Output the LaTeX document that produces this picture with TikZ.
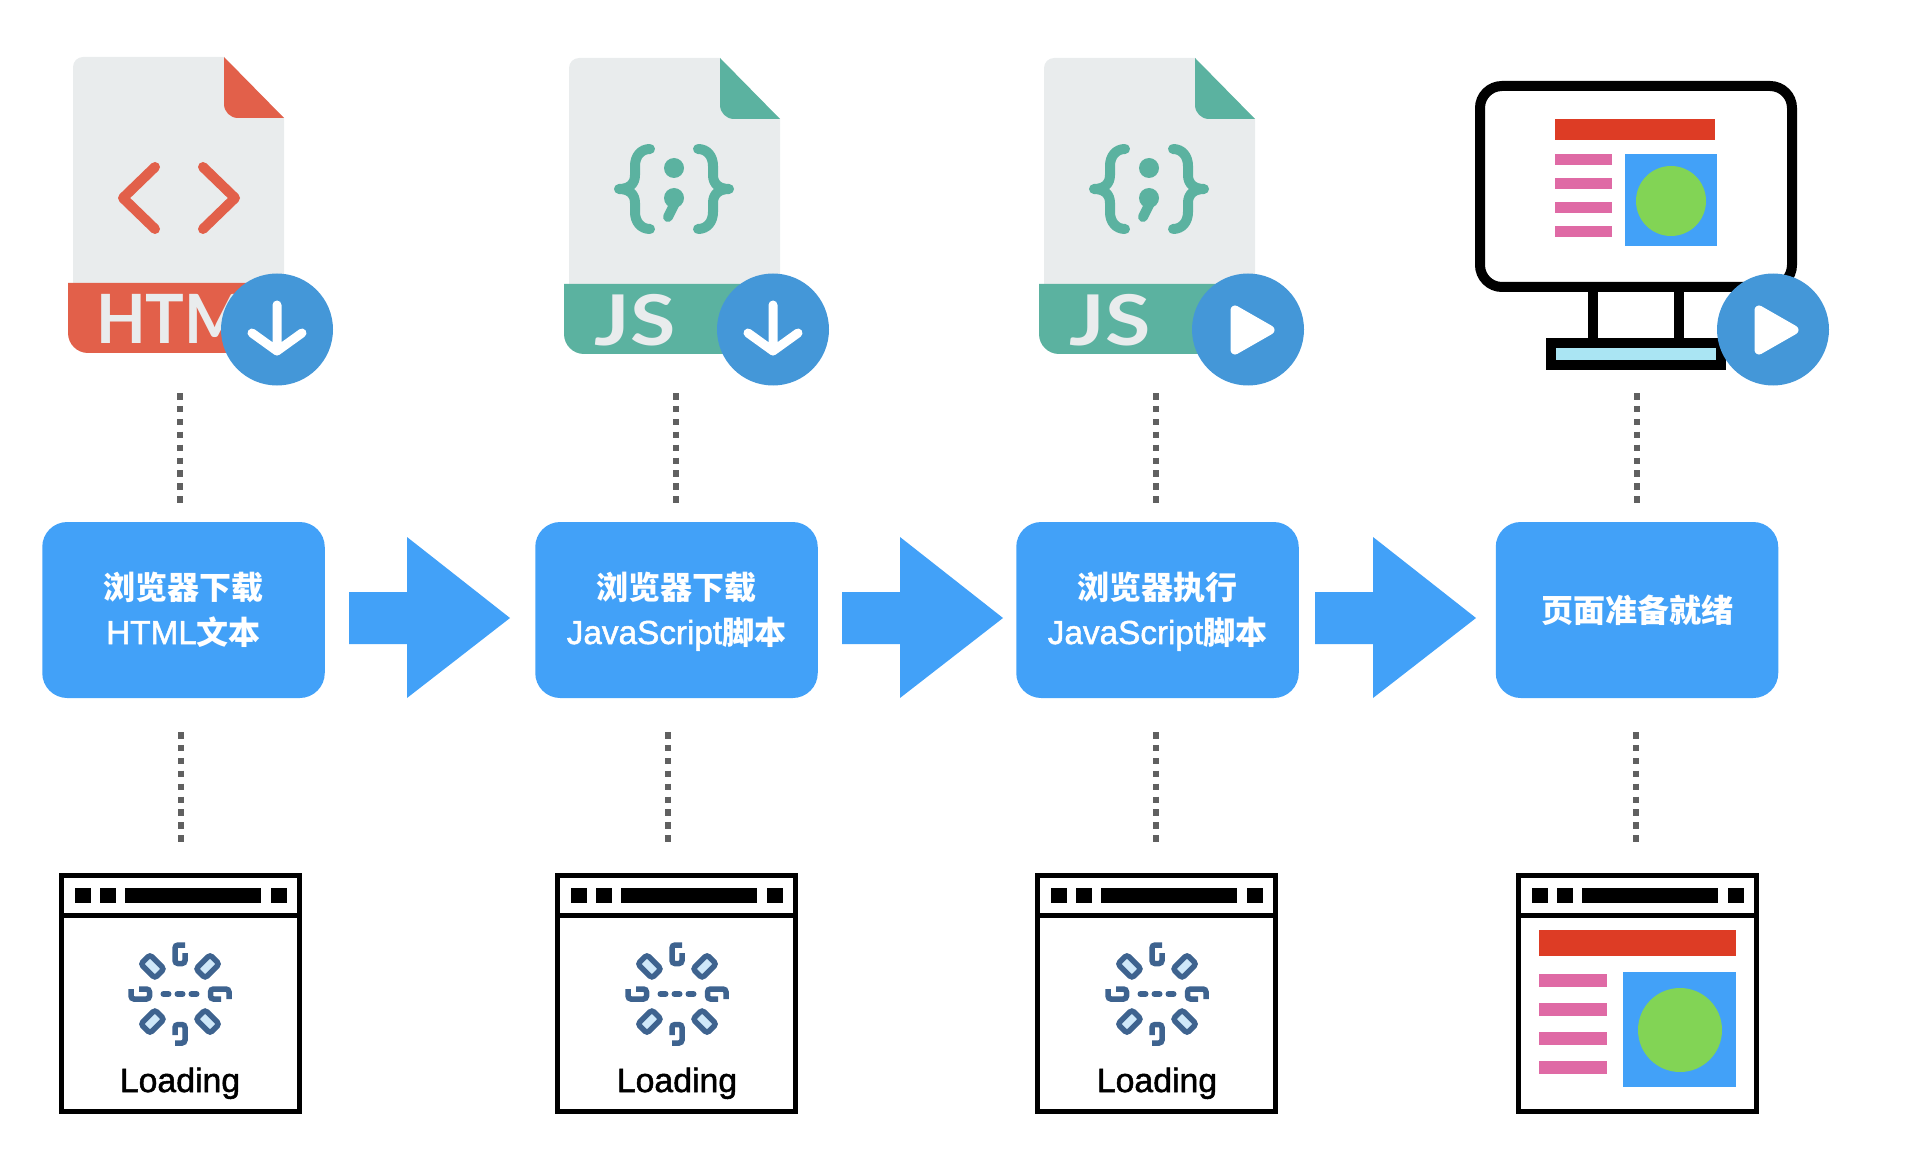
\documentclass[tikz,border=0pt]{standalone}
\usepackage{fontspec}
\setmainfont{Liberation Sans}
\newfontfamily\cjk{Noto Sans CJK SC}
\newfontfamily\midfont[FakeBold=1.5,Scale=1.04]{Liberation Sans}
\newfontfamily\iconfont{Lato}
\newcommand{\zh}[1]{{\cjk\bfseries #1}}
\newcommand{\topline}{\rule{0pt}{36.5pt}}
\definecolor{htmlred}{HTML}{E2604A}
\definecolor{jsgreen}{HTML}{5BB2A0}
\definecolor{filegrey}{HTML}{E9ECED}
\definecolor{badgeblue}{HTML}{4497D8}
\definecolor{boxblue}{HTML}{42A1F8}
\definecolor{barred}{HTML}{DD3C25}
\definecolor{linepink}{HTML}{DF6AA5}
\definecolor{ballgreen}{HTML}{82D455}
\definecolor{standblue}{HTML}{AAE5F3}
\definecolor{spindark}{HTML}{3E638F}
\definecolor{spinlight}{HTML}{CFE8F9}
\definecolor{dotgrey}{HTML}{606060}

\begin{document}
\begin{tikzpicture}[x=1pt,y=-1pt]
    \tikzset{%
      stepbox/.style={rectangle, fill=boxblue, text=white, rounded corners=25pt,
        minimum width=282.5pt, minimum height=176pt, inner sep=0pt, align=center,
        font=\fontsize{32}{45}\selectfont\midfont},
      badge/.style={circle, fill=badgeblue, inner sep=0pt, minimum size=112pt},
      dotline/.style={dotgrey, line width=6pt, dash pattern=on 6.5pt off 6.4pt},
      glyph/.style={white, line width=9pt, line cap=round, line join=round},
      spin/.style={spindark, line width=5.5pt, rounded corners=3pt},
    }
    \useasboundingbox (0,0) rectangle (1928,1158);

    % files
    \foreach \fx/\fy/\fc in {73/57/htmlred,569/58/jsgreen,1044/58/jsgreen}{
      \begin{scope}[shift={(\fx,\fy)}]
        \fill[filegrey] (0,226) [rounded corners=10pt] -- (0,0) [sharp corners]
          -- (151,0) -- (211,61) -- (211,226) -- cycle;
        \fill[\fc] (151,0) -- (211,61) [rounded corners=14pt] -- (151,61)
          [sharp corners] -- cycle;
        \fill[\fc] (-5,226) [rounded corners=20pt] -- (-5,296) [sharp corners]
          -- (211,296) -- (211,226) -- cycle;
      \end{scope}
    }
    \draw[htmlred, line width=10pt, line cap=round, line join=round]
      (155,167) -- (123,198) -- (155,229) (203,167) -- (235,198) -- (203,229);
    \node[filegrey, anchor=base west, inner sep=0pt, xscale=0.95,
      font=\fontsize{68}{68}\selectfont\iconfont\bfseries] (H) at (96,344) {HTML};

    % js marks
    \foreach \k/\fx in {1/569,2/1044}{
      \begin{scope}[shift={(\fx+105,189)}]
        \foreach \s in {1,-1}{
          \draw[jsgreen, xscale=\s, line width=10pt, line cap=round, line join=round]
            (-24,-40) .. controls (-33,-40) and (-39,-33) .. (-39,-23)
            -- (-39,-14) .. controls (-39,-5) and (-45,0) .. (-55,0)
            .. controls (-45,0) and (-39,5) .. (-39,14)
            -- (-39,23) .. controls (-39,33) and (-33,40) .. (-24,40);
        }
        \fill[jsgreen] (0,-21) circle[radius=10];
        \fill[jsgreen] (0,9) circle[radius=10];
        \draw[jsgreen, line width=10pt, line cap=round] (2,12) -- (-6,28);
      \end{scope}
      \node[filegrey, anchor=base, inner sep=0pt, xscale=1.18,
        font=\fontsize{70}{70}\selectfont\iconfont\bfseries] (J\k) at (\fx+66,345) {JS};
    }

    % monitor
    \draw[black, line width=10pt, rounded corners=22pt] (1480,86) rectangle (1792,287);
    \fill[black] (1588,292) rectangle (1598,338);
    \fill[black] (1674,292) rectangle (1684,338);
    \draw[black, line width=10pt, fill=standblue] (1551,343) rectangle (1721,365);
    \fill[barred] (1555,119) rectangle (1715,140);
    \foreach \ly in {154,178,202,226}{
      \fill[linepink] (1555,\ly) rectangle (1612,\ly+11);
    }
    \fill[boxblue] (1625,154) rectangle (1717,246);
    \fill[ballgreen] (1671,201) circle[radius=35];

    % badges
    \node[badge] (C1) at (277,329.5) {};
    \draw[glyph] (277,305) -- (277,351) (252,333) -- (277,351) -- (302,333);
    \node[badge] (C2) at (773,329.5) {};
    \draw[glyph] (773,305) -- (773,351) (748,333) -- (773,351) -- (798,333);
    \node[badge] (C3) at (1248,329.5) {};
    \filldraw[glyph] (1235,310) -- (1235,350) -- (1270,330) -- cycle;
    \node[badge] (C4) at (1773,329.5) {};
    \filldraw[glyph] (1759,310) -- (1759,350) -- (1794,330) -- cycle;

    % steps
    \node[stepbox] (B1) at (183.5,610) {\topline\zh{浏览器下载}\\HTML\zh{文本}\strut};
    \node[stepbox] (B2) at (676.5,610) {\topline\zh{浏览器下载}\\JavaScript\zh{脚本}\strut};
    \node[stepbox] (B3) at (1157.5,610) {\topline\zh{浏览器执行}\\JavaScript\zh{脚本}\strut};
    \node[stepbox] (B4) at (1637,610) {\zh{页面准备就绪}};

    \foreach \ax in {349,842,1315}{
      \fill[boxblue] (\ax,592) -- (\ax+58,592) -- (\ax+58,537) -- (\ax+161,618)
        -- (\ax+58,698) -- (\ax+58,644) -- (\ax,644) -- cycle;
    }

    % dotted links
    \foreach \k/\xa/\xb in {1/180/181,2/676/668,3/1156/1156,4/1637/1636}{
      \coordinate (Ua\k) at (\xa,393);
      \coordinate (Ub\k) at (\xa,503);
      \coordinate (La\k) at (\xb,732);
      \coordinate (Lb\k) at (\xb,842);
      \draw[dotline] (Ua\k) -- (Ub\k);
      \draw[dotline] (La\k) -- (Lb\k);
    }

    % windows
    \foreach \wx in {59,555,1035,1516}{
      \begin{scope}[shift={(\wx,873)}]
        \draw[black, line width=5pt] (2.5,2.5) rectangle (240,238.5);
        \draw[black, line width=5pt] (2.5,42) -- (240,42);
        \fill[black] (16,15) rectangle (32,30);
        \fill[black] (41,15) rectangle (57,30);
        \fill[black] (66,15) rectangle (202,30);
        \fill[black] (212,15) rectangle (228,30);
      \end{scope}
    }

    % spinners
    \foreach \k/\wx in {1/180,2/677,3/1157}{
      \begin{scope}[shift={(\wx,994)}]
        \foreach \a in {0,90,180,270}{
          \draw[spin, rotate=\a] (5,-49) -- (-5,-49) -- (-5,-30.5)
            -- (5,-30.5) -- (5,-41);
          \draw[spin, fill=spinlight, rotate=\a+45] (-6.5,-49) rectangle (6.5,-29);
        }
        \foreach \dx in {-14,0,14}{
          \draw[spindark, line width=6pt, line cap=round] (\dx-2.5,0) -- (\dx+2.5,0);
        }
      \end{scope}
      \node[anchor=base, inner sep=0pt, font=\fontsize{32.5}{40}\selectfont\midfont]
        (T\k) at (\wx,1092) {Loading};
    }

    % ready page
    \fill[barred] (1539,930) rectangle (1736,956);
    \foreach \ly in {974,1003,1032,1061}{
      \fill[linepink] (1539,\ly) rectangle (1607,\ly+13);
    }
    \fill[boxblue] (1623,972) rectangle (1736,1087);
    \fill[ballgreen] (1680,1030) circle[radius=42];
\end{tikzpicture}
\end{document}
